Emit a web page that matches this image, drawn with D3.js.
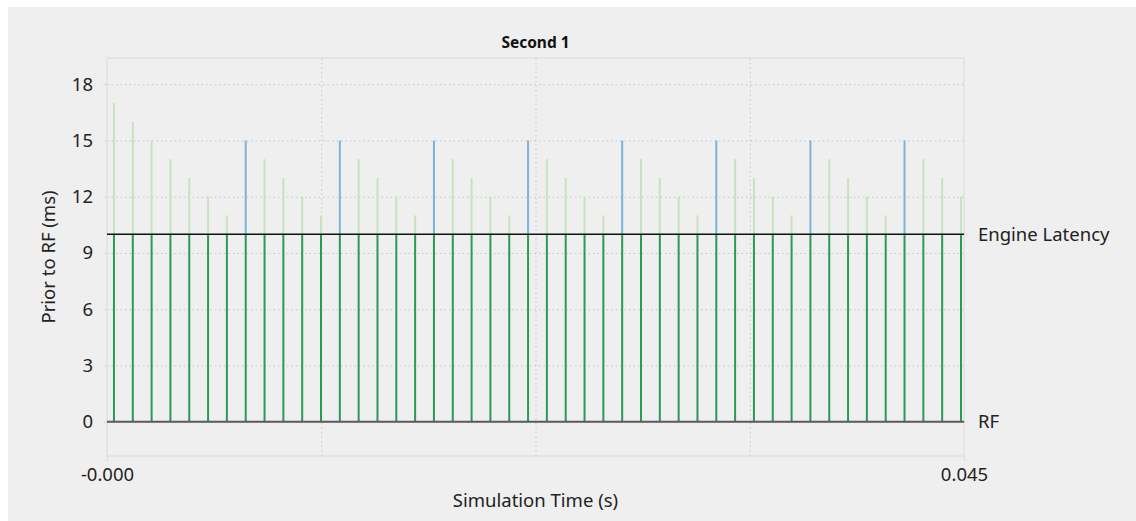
<!DOCTYPE html>
<html>
<head>
<meta charset="utf-8">
<script src="https://cdn.jsdelivr.net/npm/d3@7"></script>
<style>
  body { margin: 0; background: #fff; }
  svg { display: block; font-family: "Noto Sans", sans-serif; }
</style>
</head>
<body>
<svg id="chart"></svg>
<script>
// frame times in ms (one frame per ms), and the "prior to RF" value of each
const frames = d3.range(0, 46);
const priorValues = [17, 16, 15, 14, 13, 12, 11,
  15, 14, 13, 12, 11, 15, 14, 13, 12, 11, 15, 14, 13, 12, 11,
  15, 14, 13, 12, 11, 15, 14, 13, 12, 11, 15, 14, 13, 12, 11,
  15, 14, 13, 12, 11, 15, 14, 13, 12];
// frames drawn in blue
const blueFrames = [7, 12, 17, 22, 27, 32, 37, 42];
const engineLatency = 10;
const yTicks = [0, 3, 6, 9, 12, 15, 18];
const xTickLabels = ["-0.000", "", "", "", "0.045"];
const markers = [{ value: engineLatency, label: "Engine Latency" }, { value: 0, label: "RF" }];

function drawChart(width, height) {
  const svg = d3.select('#chart')
    .attr('width', width)
    .attr('height', height);

  svg.append('rect')
    .attr('x', 8).attr('y', 7)
    .attr('width', width - 8).attr('height', height - 7)
    .attr('fill', '#efefef');

  const left = 107, right = 964, top = 58, bottom = 456;
  const fontSize = 18.5;

  const xScale = d3.scaleLinear()
    .domain([-0.00037, 0.04516])
    .range([left, right]);

  const yScale = d3.scaleLinear()
    .domain([-1.83, 19.4])
    .range([bottom, top]);

  const xDom = xScale.domain();
  const xTicks = d3.range(5).map(i => xDom[0] + i * (xDom[1] - xDom[0]) / 4);

  // grid
  svg.append('g')
    .attr('transform', `translate(0, ${bottom})`)
    .call(d3.axisBottom(xScale).tickValues(xTicks.slice(1, 4)).tickSize(-(bottom - top)).tickFormat(''))
    .call(g => g.select('.domain').remove())
    .selectAll('line')
    .attr('stroke', '#c4c4c4')
    .attr('stroke-dasharray', '1.5,3');

  svg.append('g')
    .attr('transform', `translate(${left}, 0)`)
    .call(d3.axisLeft(yScale).tickValues(yTicks).tickSize(-(right - left)).tickFormat(''))
    .call(g => g.select('.domain').remove())
    .selectAll('line')
    .attr('stroke', '#c4c4c4')
    .attr('stroke-dasharray', '1.5,3');

  // frame
  svg.append('rect')
    .attr('x', left).attr('y', top)
    .attr('width', right - left).attr('height', bottom - top)
    .attr('fill', 'none')
    .attr('stroke', '#dadada');

  // x axis
  const xAxis = svg.append('g')
    .attr('transform', `translate(0, ${bottom})`)
    .call(d3.axisBottom(xScale).tickValues([xTicks[0], xTicks[4]])
      .tickSize(5).tickPadding(7)
      .tickFormat((d, i) => xTickLabels[i === 0 ? 0 : 4]));
  xAxis.select('.domain').remove();
  xAxis.selectAll('line').attr('stroke', '#dadada');
  xAxis.selectAll('text').attr('font-size', fontSize).attr('fill', '#222').attr('font-family', '"Noto Sans", sans-serif');

  // y axis
  const yAxis = svg.append('g')
    .attr('transform', `translate(${left}, 0)`)
    .call(d3.axisLeft(yScale).tickValues(yTicks).tickSize(4).tickPadding(10));
  yAxis.select('.domain').remove();
  yAxis.selectAll('line').attr('stroke', '#dadada');
  yAxis.selectAll('text').attr('font-size', fontSize).attr('fill', '#222').attr('font-family', '"Noto Sans", sans-serif');

  // right marker axis
  const rAxis = svg.append('g')
    .attr('transform', `translate(${right}, 0)`)
    .call(d3.axisRight(yScale).tickValues(markers.map(m => m.value))
      .tickSize(5).tickPadding(9)
      .tickFormat(v => markers.find(m => m.value === v).label));
  rAxis.select('.domain').remove();
  rAxis.selectAll('line').attr('stroke', '#dadada');
  rAxis.selectAll('text').attr('font-size', fontSize).attr('fill', '#222').attr('font-family', '"Noto Sans", sans-serif');

  const data = frames.map((f, i) => ({ t: f / 1000, value: priorValues[i], blue: blueFrames.includes(f) }));

  // upper (prior) bars
  svg.append('g').selectAll('line')
    .data(data)
    .enter()
    .append('line')
    .attr('x1', d => xScale(d.t)).attr('x2', d => xScale(d.t))
    .attr('y1', yScale(engineLatency))
    .attr('y2', d => yScale(d.value))
    .attr('stroke', d => d.blue ? '#7cb3dc' : '#c5e3bd')
    .attr('stroke-width', 2);

  // engine latency bars
  svg.append('g').selectAll('line')
    .data(data)
    .enter()
    .append('line')
    .attr('x1', d => xScale(d.t)).attr('x2', d => xScale(d.t))
    .attr('y1', yScale(0))
    .attr('y2', yScale(engineLatency))
    .attr('stroke', '#2b9a52')
    .attr('stroke-width', 2);

  // marker lines
  svg.append('line')
    .attr('x1', left).attr('x2', right)
    .attr('y1', yScale(engineLatency)).attr('y2', yScale(engineLatency))
    .attr('stroke', '#111').attr('stroke-width', 1.5);
  svg.append('line')
    .attr('x1', left).attr('x2', right)
    .attr('y1', yScale(0)).attr('y2', yScale(0))
    .attr('stroke', '#5a5a5a').attr('stroke-width', 2);

  // titles
  svg.append('text')
    .attr('x', (left + right) / 2).attr('y', 48)
    .attr('text-anchor', 'middle')
    .attr('font-size', 15.5).attr('font-weight', 'bold').attr('fill', '#111')
    .text('Second 1');

  svg.append('text')
    .attr('x', (left + right) / 2).attr('y', 507)
    .attr('text-anchor', 'middle')
    .attr('font-size', fontSize).attr('fill', '#222')
    .text('Simulation Time (s)');

  svg.append('text')
    .attr('transform', `translate(55, ${(top + bottom) / 2}) rotate(-90)`)
    .attr('text-anchor', 'middle')
    .attr('font-size', fontSize).attr('fill', '#222')
    .text('Prior to RF (ms)');
}

drawChart(1136, 521);
</script>
</body>
</html>
